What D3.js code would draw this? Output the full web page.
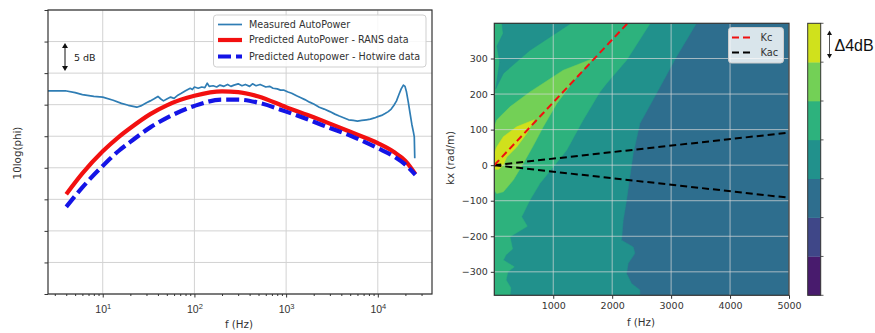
<!DOCTYPE html>
<html><head><meta charset="utf-8">
<script src="https://cdn.jsdelivr.net/npm/d3@7"></script>
<style>
body{margin:0;background:#fff;}
svg{display:block;font-family:"DejaVu Sans",sans-serif;}
</style></head>
<body><svg id="c" width="875" height="333"></svg>
<script>
// ---------------- LEFT CHART DATA ----------------
const measuredFreq = [2.53,3.9,5,6,8,10,13,16,19,23.5,26,30,33,36,40,43,46,50,55,60,66,72,80,90,95,100,110,120,130,138,145,160,175,190,210,230,250,270,300,330,360,400,430,470,520,560,600,660,720,800,870,950,1050,1150,1300,1450,1600,1800,2000,2300,2600,3000,3400,3800,4300,4800,5400,6000,6700,7500,8300,9200,10000,11000,12000,13000,14000,15000,16000,17000,18000,19000,19800,20500,21500,22500,23500,24500,25000,25300];
const measuredDb   = [32.2,32.2,31.9,31.6,31.3,31.2,30.7,30.2,29.9,29.6,29.8,30.3,30.6,30.9,31.3,30.9,30.6,30.9,31.2,31.0,31.5,31.8,32.2,32.6,32.4,32.8,32.6,32.8,32.7,33.4,32.9,33.0,32.8,33.1,32.9,33.2,32.9,33.1,33.3,33.0,33.2,32.9,33.3,33.0,33.2,33.0,32.8,32.9,32.6,32.5,32.3,32.3,32.0,31.8,31.4,31.1,30.8,30.4,30.1,29.6,29.3,28.9,28.5,28.2,27.9,27.6,27.5,27.4,27.5,27.6,27.7,27.9,28.1,28.3,28.6,28.9,29.3,29.9,30.6,31.6,32.5,33.1,32.9,32.1,30.4,28.6,26.9,25.6,24.9,21.5];
const ransFreq = [4,6,10,15,20,33,50,100,200,300,500,1000,2000,3000,5000,10000,15000,20000,25700];
const ransDb   = [15.8,19.1,22.6,24.9,26.3,28.5,29.9,31.4,32.1,32.0,31.3,29.6,28.0,27.0,25.7,23.9,22.5,21.1,19.0];
const hotwireFreq = [4,6,10,15,20,33,50,100,200,300,500,1000,2000,3000,5000,10000,15000,20000,25700];
const hotwireDb   = [13.8,16.9,20.3,22.7,24.1,26.4,27.9,29.8,30.8,30.8,30.3,28.9,27.3,26.3,25.1,23.1,21.8,20.5,18.9];
const leftSeriesNames = ["Measured AutoPower","Predicted AutoPower - RANS data","Predicted Autopower - Hotwire data"];
const leftYTicks = [0,5,10,15,20,25,30,35,40,45];
const leftXMajor = [10,100,1000,10000];
const leftXMajorExp = ["1","2","3","4"];

// ---------------- RIGHT CHART DATA ----------------
const rightXTicks = [1000,2000,3000,4000,5000];
const rightYTicks = [-300,-200,-100,0,100,200,300];
const levelColors = [0,1,2,3,4,5,6].map(i=>d3.interpolateViridis((i+0.5)/7));
// contour regions (f [Hz], kx [rad/m]) with their level index
const regionBlue = [[0,399],[5000,399],[5000,-366],[0,-366]];
const regionTeal = [[0,399],[3430,399],[3091,305],[2753,202],[2470,117],[2357,33],[2300,-33],[2244,-98],[2187,-155],[2159,-211],[2357,-230],[2385,-248],[2272,-276],[2244,-305],[2329,-333],[2470,-351],[2470,-366],[0,-366]];
const regionGreen = [[0,399],[2645,399],[2244,295],[1905,230],[1792,206],[1500,125],[1227,42],[1000,-5],[775,-51],[605,-98],[464,-145],[560,-172],[400,-188],[266,-201],[310,-236],[200,-252],[153,-267],[340,-286],[230,-300],[200,-323],[280,-345],[266,-366],[0,-366]];
const regionTealWedge = [[130,399],[1300,399],[605,323],[153,258],[25,215],[90,290],[45,335],[150,370]];
const regionLightGreen = [[1680,300],[1170,267],[605,206],[266,164],[41,127],[0,108],[0,-70],[41,-80],[153,-75],[322,-42],[492,5],[662,55],[831,108],[1058,173],[1397,248]];
const regionYellow = [[680,128],[380,108],[153,80],[41,51],[0,33],[0,-11],[68,-12],[153,0],[210,23],[380,51],[549,89]];
const regions = [[regionBlue,2],[regionTeal,3],[regionGreen,4],[regionTealWedge,3],[regionLightGreen,5],[regionYellow,6]];
const kcSpeed = 35.6;   // convective velocity m/s
const acSpeed = 343;    // speed of sound m/s
const lineFreq = [0,5000];
const rightLegend = ["Kc","Kac"];

const svg = d3.select("#c");

// ================= LEFT CHART =================
const lx = d3.scaleLog().domain([2.53,39000]).range([48,432]);
const ly = d3.scaleLinear().domain([0,45]).range([294,10]);
const L = svg.append("g");
L.append("g").selectAll("line").data(leftYTicks).join("line")
  .attr("x1",48).attr("x2",432).attr("y1",d=>ly(d)).attr("y2",d=>ly(d))
  .attr("stroke","#d2d2d2").attr("stroke-width",1);
L.append("g").selectAll("line").data(leftXMajor).join("line")
  .attr("x1",d=>lx(d)).attr("x2",d=>lx(d)).attr("y1",10).attr("y2",294)
  .attr("stroke","#d2d2d2").attr("stroke-width",1);
svg.append("clipPath").attr("id","clipL").append("rect").attr("x",48).attr("y",10).attr("width",384).attr("height",284);
const lineGen = d3.line().x(d=>lx(d[0])).y(d=>ly(d[1]));
const smoothGen = d3.line().x(d=>lx(d[0])).y(d=>ly(d[1])).curve(d3.curveMonotoneX);
const gl = L.append("g").attr("clip-path","url(#clipL)");
gl.append("path").datum(measuredFreq.map((f,i)=>[f,measuredDb[i]]))
  .attr("d",lineGen).attr("fill","none").attr("stroke","#2f7db4").attr("stroke-width",1.7).attr("stroke-linejoin","round");
gl.append("path").datum(ransFreq.map((f,i)=>[f,ransDb[i]]))
  .attr("d",smoothGen).attr("fill","none").attr("stroke","#f21010").attr("stroke-width",4.2);
gl.append("path").datum(hotwireFreq.map((f,i)=>[f,hotwireDb[i]]))
  .attr("d",smoothGen).attr("fill","none").attr("stroke","#1414e6").attr("stroke-width",4.2).attr("stroke-dasharray","13,5");
const lxMinor = [];
[1,10,100,1000,10000].forEach(b=>{for(let m=2;m<=9;m++){const v=b*m; if(v>2.53&&v<39000) lxMinor.push(v);}});
L.append("g").attr("transform","translate(0,294)")
  .call(d3.axisBottom(lx).tickValues(lxMinor).tickSize(2).tickFormat(""))
  .call(g=>{g.select(".domain").remove(); g.selectAll("line").attr("stroke","#333");});
const xa = L.append("g").attr("transform","translate(0,294)")
  .call(d3.axisBottom(lx).tickValues(leftXMajor).tickSize(3.5).tickFormat(""));
xa.select(".domain").remove();
xa.selectAll("line").attr("stroke","#333");
xa.selectAll(".tick").each(function(d,i){
  const t = d3.select(this).append("text").attr("y",19).attr("fill","#333")
    .attr("text-anchor","middle").style("font-size","10.5px");
  t.append("tspan").text("10");
  t.append("tspan").attr("dy","-4").style("font-size","7.5px").text(leftXMajorExp[i]);
});
const ya = L.append("g").attr("transform","translate(48,0)")
  .call(d3.axisLeft(ly).tickValues(leftYTicks).tickSize(3.5).tickFormat(""));
ya.select(".domain").remove();
ya.selectAll("line").attr("stroke","#333");
L.append("rect").attr("x",48).attr("y",10).attr("width",384).attr("height",284)
  .attr("fill","none").attr("stroke","#333").attr("stroke-width",1.2);
L.append("text").attr("x",239).attr("y",328).attr("text-anchor","middle").attr("fill","#333")
  .style("font-size","10.3px").text("f (Hz)");
L.append("text").attr("transform","translate(21,153) rotate(-90)").attr("text-anchor","middle").attr("fill","#333")
  .style("font-size","10.3px").text("10log(phi)");
const ann = L.append("g");
ann.append("line").attr("x1",65).attr("x2",65).attr("y1",47).attr("y2",67).attr("stroke","#111").attr("stroke-width",1);
ann.append("path").attr("d","M62,48 L65,43 L68,48 Z").attr("fill","#111");
ann.append("path").attr("d","M62,66 L65,71 L68,66 Z").attr("fill","#111");
ann.append("text").attr("x",74).attr("y",61).attr("fill","#222").style("font-size","9.5px").text("5 dB");
const lg = L.append("g");
lg.append("rect").attr("x",213.5).attr("y",15).attr("width",212.5).attr("height",52).attr("rx",3)
  .attr("fill","rgba(255,255,255,0.85)").attr("stroke","#cfcfcf");
const legStyles = [{c:"#2f7db4",w:1.7,d:null},{c:"#f21010",w:4.2,d:null},{c:"#1414e6",w:4.2,d:"13,5"}];
const legY = [24.5,40,56.5];
leftSeriesNames.forEach((n,i)=>{
  lg.append("line").attr("x1",218).attr("x2",242).attr("y1",legY[i]).attr("y2",legY[i])
    .attr("stroke",legStyles[i].c).attr("stroke-width",legStyles[i].w).attr("stroke-dasharray",legStyles[i].d);
  lg.append("text").attr("x",249).attr("y",legY[i]+3.3).attr("fill","#333").style("font-size","9.6px").text(n);
});

// ================= RIGHT CHART =================
const rx = d3.scaleLinear().domain([0,5000]).range([494.3,789]);
const ry = d3.scaleLinear().domain([-366,399]).range([295.3,23.3]);
const R = svg.append("g");
svg.append("clipPath").attr("id","clipR").append("rect").attr("x",494.3).attr("y",23.3).attr("width",294.7).attr("height",272);
const gr = R.append("g").attr("clip-path","url(#clipR)");
const polyGen = d3.line().x(d=>rx(d[0])).y(d=>ry(d[1])).curve(d3.curveLinearClosed);
regions.forEach(([pts,lev])=>{
  gr.append("path").attr("d",polyGen(pts)).attr("fill",levelColors[lev]).attr("stroke",levelColors[lev]).attr("stroke-width",0.5);
});
gr.append("g").selectAll("line").data(rightXTicks).join("line")
  .attr("x1",d=>rx(d)).attr("x2",d=>rx(d)).attr("y1",23.3).attr("y2",295.3)
  .attr("stroke","#d8d8d8").attr("stroke-opacity",0.7).attr("stroke-width",1);
gr.append("g").selectAll("line").data(rightYTicks).join("line")
  .attr("x1",494.3).attr("x2",789).attr("y1",d=>ry(d)).attr("y2",d=>ry(d))
  .attr("stroke","#d8d8d8").attr("stroke-opacity",0.7).attr("stroke-width",1);
const kGen = d3.line().x(d=>rx(d[0])).y(d=>ry(d[1]));
gr.append("path").attr("d",kGen(lineFreq.map(f=>[f,2*Math.PI*f/acSpeed])))
  .attr("fill","none").attr("stroke","#000").attr("stroke-width",2).attr("stroke-dasharray","7,4");
gr.append("path").attr("d",kGen(lineFreq.map(f=>[f,-2*Math.PI*f/acSpeed])))
  .attr("fill","none").attr("stroke","#000").attr("stroke-width",2).attr("stroke-dasharray","7,4");
gr.append("path").attr("d",kGen(lineFreq.map(f=>[f,2*Math.PI*f/kcSpeed])))
  .attr("fill","none").attr("stroke","#f01010").attr("stroke-width",2).attr("stroke-dasharray","7,4");
const rxa = R.append("g").attr("transform","translate(0,295.3)")
  .call(d3.axisBottom(rx).tickValues(rightXTicks).tickSize(3.5).tickPadding(3).tickFormat(d3.format("d")));
rxa.select(".domain").remove();
rxa.selectAll("line").attr("stroke","#333");
rxa.selectAll("text").attr("fill","#333").style("font-size","9.5px").attr("font-family","DejaVu Sans");
const rya = R.append("g").attr("transform","translate(494.3,0)")
  .call(d3.axisLeft(ry).tickValues(rightYTicks).tickSize(3.5).tickPadding(3).tickFormat(d=>d<0?"\u2212"+Math.abs(d):String(d)));
rya.select(".domain").remove();
rya.selectAll("line").attr("stroke","#333");
rya.selectAll("text").attr("fill","#333").style("font-size","9.5px").attr("font-family","DejaVu Sans");
R.append("rect").attr("x",494.3).attr("y",23.3).attr("width",294.7).attr("height",272)
  .attr("fill","none").attr("stroke","#333").attr("stroke-width",1.2);
R.append("text").attr("x",641).attr("y",325.5).attr("text-anchor","middle").attr("fill","#333")
  .style("font-size","10.3px").text("f (Hz)");
R.append("text").attr("transform","translate(454,158) rotate(-90)").attr("text-anchor","middle").attr("fill","#333")
  .style("font-size","10.3px").text("kx (rad/m)");
const rl = R.append("g");
rl.append("rect").attr("x",728.5).attr("y",27.5).attr("width",55).attr("height",35.5).attr("rx",3)
  .attr("fill","rgba(255,255,255,0.82)").attr("stroke","#cccccc");
const rlStyles = ["#f01010","#000"];
const rlY = [37.5,52.5];
rightLegend.forEach((n,i)=>{
  rl.append("line").attr("x1",732).attr("x2",751).attr("y1",rlY[i]).attr("y2",rlY[i])
    .attr("stroke",rlStyles[i]).attr("stroke-width",2).attr("stroke-dasharray","7,4");
  rl.append("text").attr("x",760.5).attr("y",rlY[i]+3.5).attr("fill","#333").style("font-size","9.8px").text(n);
});
const cb = d3.scaleBand().domain(d3.range(7).reverse()).range([23.3,295.3]).padding(0);
const C = svg.append("g");
C.selectAll("rect.lev").data(d3.range(7)).join("rect").attr("class","lev")
  .attr("x",807.7).attr("width",13).attr("y",d=>cb(d)).attr("height",cb.bandwidth()+0.3)
  .attr("fill",d=>levelColors[d]);
C.append("rect").attr("x",807.7).attr("y",23.3).attr("width",13).attr("height",272)
  .attr("fill","none").attr("stroke","#333").attr("stroke-width",1);
C.selectAll("line.tk").data(d3.range(8)).join("line").attr("class","tk")
  .attr("x1",820.7).attr("x2",823.5).attr("y1",d=>23.3+d*cb.bandwidth()).attr("y2",d=>23.3+d*cb.bandwidth())
  .attr("stroke","#333").attr("stroke-width",0.8);
C.append("line").attr("x1",829.5).attr("x2",829.5).attr("y1",34).attr("y2",55).attr("stroke","#555").attr("stroke-width",1);
C.append("path").attr("d","M827,35 L829.5,30.5 L832,35 Z").attr("fill","#111");
C.append("path").attr("d","M827,54 L829.5,58.5 L832,54 Z").attr("fill","#111");
C.append("text").attr("x",834.5).attr("y",50.5).attr("fill","#111").style("font-size","16px")
  .attr("font-family","Liberation Sans, Arial, sans-serif").text("\u03944dB");
</script></body></html>
